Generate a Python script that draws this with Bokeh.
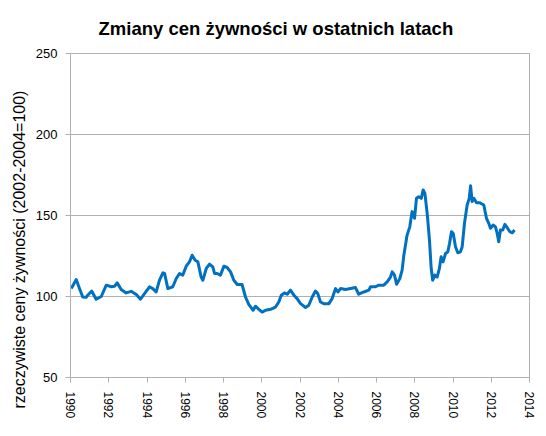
from bokeh.plotting import figure
from bokeh.models import FixedTicker, Range1d, Title
from bokeh.embed import file_html
from bokeh.resources import INLINE

# --- data ---
years = [1990.04, 1990.30, 1990.47, 1990.64, 1990.82, 1990.90, 1991.11, 1991.34, 1991.61, 1991.87,
         1992.13, 1992.30, 1992.44, 1992.65, 1992.91, 1993.17, 1993.44, 1993.66, 1993.87, 1994.13,
         1994.30, 1994.48, 1994.65, 1994.83, 1994.92, 1995.09, 1995.35, 1995.53, 1995.70, 1995.87,
         1996.05, 1996.22, 1996.36, 1996.52, 1996.66, 1996.83, 1996.92, 1997.10, 1997.27, 1997.44,
         1997.53, 1997.67, 1997.84, 1998.02, 1998.19, 1998.37, 1998.54, 1998.72, 1998.97, 1999.15,
         1999.32, 1999.55, 1999.67, 1999.85, 2000.02, 2000.20, 2000.46, 2000.72, 2000.89, 2001.02,
         2001.19, 2001.33, 2001.50, 2001.68, 2001.85, 2002.03, 2002.29, 2002.46, 2002.64, 2002.81,
         2002.93, 2003.07, 2003.24, 2003.51, 2003.68, 2003.86, 2003.98, 2004.12, 2004.38, 2004.64,
         2004.90, 2005.07, 2005.34, 2005.60, 2005.69, 2005.95, 2006.12, 2006.38, 2006.56, 2006.73,
         2006.82, 2006.94, 2007.05, 2007.22, 2007.34, 2007.43, 2007.60, 2007.74, 2007.86, 2007.99,
         2008.09, 2008.21, 2008.34, 2008.44, 2008.53, 2008.65, 2008.77, 2008.86, 2008.94, 2009.05,
         2009.17, 2009.29, 2009.38, 2009.48, 2009.61, 2009.73, 2009.82, 2009.92, 2010.01, 2010.13,
         2010.25, 2010.39, 2010.48, 2010.60, 2010.74, 2010.85, 2010.92, 2011.00, 2011.09, 2011.23,
         2011.40, 2011.61, 2011.75, 2011.87, 2011.96, 2012.10, 2012.22, 2012.31, 2012.39, 2012.48,
         2012.60, 2012.71, 2012.83, 2012.97, 2013.10, 2013.22]
values = [104.9, 110.5, 105.0, 99.7, 99.5, 100.8, 103.4, 98.3, 100.0, 107.0,
          106.0, 106.3, 108.4, 104.3, 102.2, 103.2, 101.2, 98.3, 101.8, 106.0,
          104.9, 102.8, 110.0, 114.6, 114.2, 104.9, 106.0, 111.1, 114.2, 113.2,
          118.7, 121.4, 125.5, 122.4, 121.4, 112.0, 110.0, 117.3, 120.0, 118.3,
          114.2, 114.2, 113.2, 118.7, 117.9, 115.2, 110.0, 107.4, 107.4, 99.7,
          95.2, 91.5, 94.0, 92.1, 90.4, 91.5, 92.1, 93.5, 96.6, 100.8,
          102.2, 101.4, 103.9, 100.8, 98.7, 95.6, 93.2, 94.6, 99.7, 103.4,
          101.8, 96.6, 95.6, 95.6, 98.7, 104.9, 102.8, 104.9, 104.3, 104.9,
          105.5, 101.4, 102.8, 103.9, 106.0, 106.0, 107.0, 107.0, 109.0, 112.0,
          115.2, 113.2, 107.6, 111.1, 116.3, 125.5, 137.9, 143.0, 152.4, 148.3,
          160.6, 161.6, 160.6, 165.8, 163.7, 151.3, 134.8, 117.3, 110.0, 113.2,
          112.0, 117.3, 124.5, 121.4, 126.6, 127.6, 132.8, 140.0, 139.0, 130.7,
          127.0, 127.6, 130.7, 145.2, 156.5, 160.6, 168.3, 158.6, 160.6, 157.9,
          157.9, 156.5, 148.3, 145.2, 142.1, 144.1, 143.0, 139.0, 133.8, 141.0,
          141.0, 144.5, 142.6, 140.0, 139.3, 141.0]
x_ticks = list(range(1990, 2015, 2))
y_ticks = [50, 100, 150, 200, 250]
title_text = "Zmiany cen żywności w ostatnich latach"
y_label_text = "rzeczywiste ceny żywności (2002-2004=100)"

FONT = "Liberation Sans"
GRAY = "#b0b0b0"

p = figure(frame_width=459, frame_height=324,
           x_range=Range1d(1990, 2014), y_range=Range1d(50, 250),
           output_backend="svg", toolbar_location=None,
           min_border_left=70, min_border_right=9,
           min_border_top=53, min_border_bottom=51,
           background_fill_color="white", border_fill_color="white")

p.line(years, values, line_color="#0070C0", line_width=3, line_join="round")

p.xgrid.visible = False
p.ygrid.grid_line_color = GRAY
p.ygrid.grid_line_width = 1
p.outline_line_color = GRAY
p.outline_line_width = 1

for ax in (p.xaxis, p.yaxis):
    ax.axis_line_color = GRAY
    ax.major_tick_line_color = GRAY
    ax.major_tick_in = 0
    ax.major_tick_out = 5
    ax.minor_tick_line_color = None
    ax.major_label_text_color = "#000000"
    ax.major_label_text_font = FONT

p.xaxis.ticker = FixedTicker(ticks=x_ticks)
p.xaxis.major_label_orientation = "vertical"
p.xaxis.major_label_text_font_size = "12px"
p.xaxis.major_label_standoff = 9

p.yaxis.ticker = FixedTicker(ticks=y_ticks)
p.yaxis.major_label_text_font_size = "13px"
p.yaxis.major_label_standoff = 8

p.title = Title(text=title_text, align="left", offset=28, standoff=29,
                text_font=FONT, text_font_style="bold", text_font_size="18.5px",
                text_color="#000000")

ylab = Title(text=y_label_text, align="left", offset=-31, standoff=10,
             text_font=FONT, text_font_style="normal", text_font_size="16px",
             text_color="#000000")
p.add_layout(ylab, "left")

open("out.html", "w").write(file_html(p, INLINE))
